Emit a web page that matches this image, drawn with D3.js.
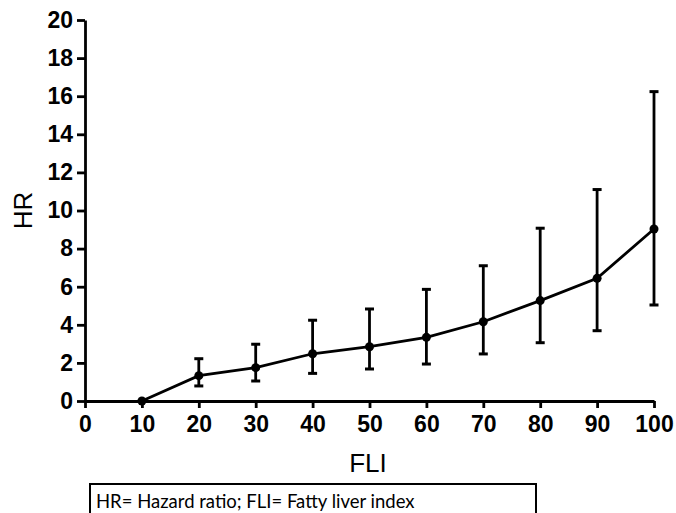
<!DOCTYPE html>
<html>
<head>
<meta charset="utf-8">
<script src="https://cdn.jsdelivr.net/npm/d3@7"></script>
<style>
  body { margin: 0; background: #fff; }
</style>
</head>
<body>
<div id="chart"></div>
<script>
// FLI categories and hazard ratios with 95% CI
var fli = [10, 20, 30, 40, 50, 60, 70, 80, 90, 100];
var hr = [0, 1.33, 1.75, 2.48, 2.85, 3.34, 4.16, 5.27, 6.44, 9.03];
var lower = [0, 0.79, 1.05, 1.45, 1.68, 1.94, 2.47, 3.06, 3.69, 5.04];
var upper = [0, 2.22, 2.98, 4.24, 4.83, 5.86, 7.10, 9.07, 11.1, 16.24];
var xTicks = [0, 10, 20, 30, 40, 50, 60, 70, 80, 90, 100];
var yTicks = [0, 2, 4, 6, 8, 10, 12, 14, 16, 18, 20];

var svgWidth = 676;
var svgHeight = 513;
var margin = { top: 20, right: 22, bottom: 112, left: 85 };
var chartWidth = svgWidth - margin.left - margin.right;
var chartHeight = svgHeight - margin.top - margin.bottom;

var svg = d3.select('#chart')
    .append('svg')
    .attr('width', svgWidth)
    .attr('height', svgHeight);

var chartGroup = svg.append('g')
    .attr('transform', 'translate(' + margin.left + ',' + margin.top + ')');

var xScale = d3.scaleLinear().domain([0, 100]).range([0, chartWidth]);
var yScale = d3.scaleLinear().domain([0, 20]).range([chartHeight, 0]);

var bottomAxis = d3.axisBottom(xScale).tickValues(xTicks).tickSize(7).tickPadding(8).tickSizeOuter(0);
var leftAxis = d3.axisLeft(yScale).tickValues(yTicks).tickSize(8).tickPadding(4).tickSizeOuter(0);

var xAxisG = chartGroup.append('g')
    .attr('transform', 'translate(0,' + chartHeight + ')')
    .call(bottomAxis);

var yAxisG = chartGroup.append('g')
    .call(leftAxis);

[xAxisG, yAxisG].forEach(function (g) {
    g.selectAll('path, line').attr('stroke', '#000').attr('stroke-width', 2.8);
    g.selectAll('text')
        .attr('fill', '#000')
        .style('font-family', 'Arial, "Liberation Sans", sans-serif')
        .style('font-weight', 'bold')
        .style('font-size', '23px');
});

var rows = fli.map(function (d, i) {
    return { x: d, y: hr[i], lo: lower[i], hi: upper[i] };
});

// error bars
var bars = chartGroup.selectAll('.err')
    .data(rows.filter(function (d) { return d.hi > d.lo; }))
    .enter()
    .append('g')
    .attr('class', 'err')
    .attr('stroke', '#000')
    .attr('stroke-width', 2.8);

bars.append('line')
    .attr('x1', function (d) { return xScale(d.x); })
    .attr('x2', function (d) { return xScale(d.x); })
    .attr('y1', function (d) { return yScale(d.lo); })
    .attr('y2', function (d) { return yScale(d.hi); });

['lo', 'hi'].forEach(function (k) {
    bars.append('line')
        .attr('x1', function (d) { return xScale(d.x) - 4.5; })
        .attr('x2', function (d) { return xScale(d.x) + 4.5; })
        .attr('y1', function (d) { return yScale(d[k]); })
        .attr('y2', function (d) { return yScale(d[k]); })
        .attr('stroke-width', 3);
});

var line = d3.line()
    .x(function (d) { return xScale(d.x); })
    .y(function (d) { return yScale(d.y); });

chartGroup.append('path')
    .datum(rows)
    .attr('d', line)
    .attr('fill', 'none')
    .attr('stroke', '#000')
    .attr('stroke-width', 2.8);

chartGroup.selectAll('circle')
    .data(rows)
    .enter()
    .append('circle')
    .attr('cx', function (d) { return xScale(d.x); })
    .attr('cy', function (d) { return yScale(d.y); })
    .attr('r', 4.5)
    .attr('fill', '#000');

// axis titles
svg.append('text')
    .attr('transform', 'translate(32,' + (margin.top + chartHeight / 2) + ') rotate(-90)')
    .attr('text-anchor', 'middle')
    .style('font-family', 'Arial, "Liberation Sans", sans-serif')
    .style('font-size', '26px')
    .text('HR');

svg.append('text')
    .attr('x', 368)
    .attr('y', 472)
    .attr('text-anchor', 'middle')
    .style('font-family', 'Arial, "Liberation Sans", sans-serif')
    .style('font-size', '26px')
    .text('FLI');

// footnote box
svg.append('rect')
    .attr('x', 90)
    .attr('y', 484)
    .attr('width', 446)
    .attr('height', 40)
    .attr('fill', 'none')
    .attr('stroke', '#000')
    .attr('stroke-width', 2);

svg.append('text')
    .attr('x', 96)
    .attr('y', 508)
    .style('font-family', 'Lato, "Open Sans", sans-serif')
    .style('font-size', '18.5px')
    .text('HR= Hazard ratio; FLI= Fatty liver index');
</script>
</body>
</html>
